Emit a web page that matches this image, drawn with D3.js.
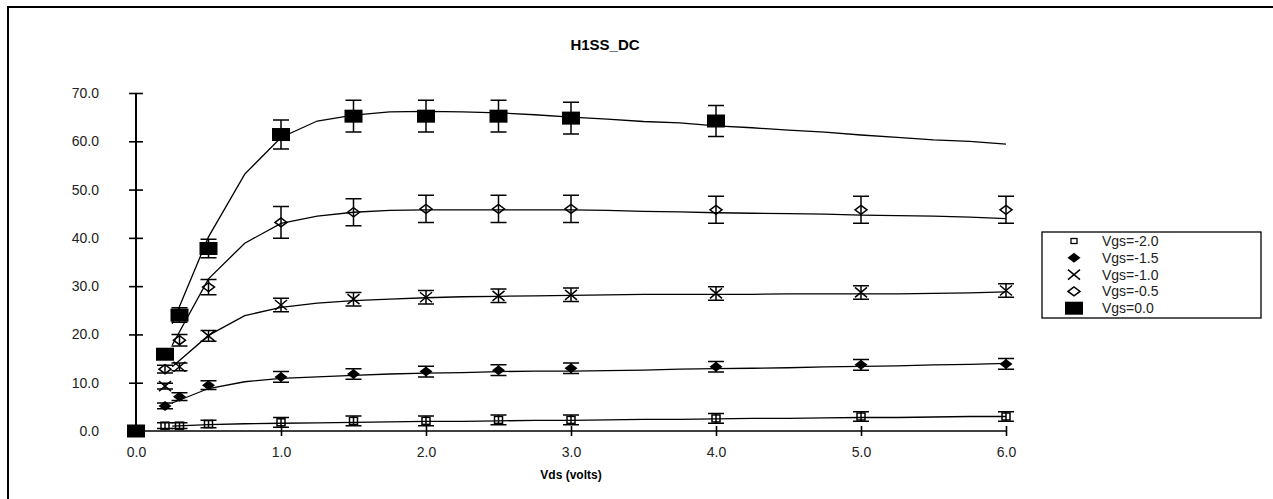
<!DOCTYPE html>
<html>
<head>
<meta charset="utf-8">
<script src="https://cdn.jsdelivr.net/npm/d3@7"></script>
<style>
  body { margin: 0; background: #fff; }
  svg { display: block; font-family: "Liberation Sans", Arial, sans-serif; }
</style>
</head>
<body>
<svg id="chart" width="1273" height="499"></svg>
<script>
// measured points
var markerX = [0, 0.2, 0.3, 0.5, 1.0, 1.5, 2.0, 2.5, 3.0, 4.0, 5.0, 6.0];
var seriesNames = ["Vgs=-2.0", "Vgs=-1.5", "Vgs=-1.0", "Vgs=-0.5", "Vgs=0.0"];
var vgsM20 = [null, 1.1, 1.1, 1.45, 1.8, 2.1, 2.1, 2.3, 2.3, 2.6, 3.0, 3.0];
var vgsM15 = [null, 5.2, 7.1, 9.5, 11.2, 11.8, 12.3, 12.6, 13.0, 13.3, 13.7, 13.9];
var vgsM10 = [null, 9.3, 13.3, 19.7, 26.1, 27.3, 27.7, 28.0, 28.2, 28.5, 28.7, 29.1];
var vgsM05 = [null, 12.8, 18.8, 29.8, 43.2, 45.3, 46.0, 46.0, 46.0, 45.8, 45.8, 45.8];
var vgs00 = [0, 15.9, 24.0, 37.8, 61.4, 65.2, 65.2, 65.2, 64.8, 64.2, null, null];
// error bar half heights
var errM20 = [0, 0.6, 0.6, 0.8, 1.0, 1.0, 1.0, 1.0, 1.0, 1.0, 1.0, 1.0];
var errM15 = [0, 0.6, 0.8, 0.9, 1.1, 1.1, 1.1, 1.1, 1.1, 1.1, 1.1, 1.1];
var errM10 = [0, 0.6, 0.8, 1.1, 1.4, 1.4, 1.4, 1.4, 1.4, 1.4, 1.4, 1.4];
var errM05 = [0, 0.8, 1.2, 1.6, 3.3, 2.8, 2.8, 2.8, 2.8, 2.8, 2.8, 2.8];
var err00 = [0, 1.0, 1.5, 1.9, 3.0, 3.3, 3.3, 3.3, 3.3, 3.2, 0, 0];

// fitted curves
var lineX = [0.25, 0.5, 0.75, 1.0, 1.25, 1.5, 1.75, 2.0, 2.25, 2.5, 2.75, 3.0,
  3.25, 3.5, 3.75, 4.0, 4.25, 4.5, 4.75, 5.0, 5.25, 5.5, 5.75, 6.0];
var fitM20 = [1.0, 1.3, 1.5, 1.6, 1.7, 1.8, 1.9, 2.0, 2.0, 2.1, 2.2, 2.2,
  2.3, 2.4, 2.4, 2.5, 2.6, 2.6, 2.7, 2.8, 2.8, 2.9, 3.0, 3.0];
var fitM15 = [5.8, 8.8, 10.2, 10.9, 11.2, 11.5, 11.8, 12.0, 12.1, 12.3, 12.4, 12.4,
  12.5, 12.6, 12.8, 12.9, 13.0, 13.1, 13.3, 13.4, 13.5, 13.7, 13.8, 14.0];
var fitM10 = [13.3, 19.8, 23.9, 25.6, 26.5, 27.0, 27.3, 27.6, 27.8, 27.9, 28.0, 28.1,
  28.2, 28.3, 28.3, 28.3, 28.3, 28.4, 28.4, 28.4, 28.4, 28.5, 28.6, 28.8];
var fitM05 = [17.8, 31.5, 38.9, 43.0, 44.5, 45.3, 45.7, 45.8, 45.8, 45.8, 45.8, 45.8,
  45.7, 45.5, 45.4, 45.2, 45.1, 45.0, 44.9, 44.7, 44.6, 44.5, 44.3, 44.0];
var fit00 = [22.2, 40.2, 53.2, 60.8, 64.2, 65.4, 66.1, 66.2, 66.1, 65.9, 65.5, 65.0,
  64.6, 64.1, 63.8, 63.2, 62.8, 62.3, 61.9, 61.3, 60.8, 60.3, 60.0, 59.4];

var xTicks = [0, 1, 2, 3, 4, 5, 6];
var yTicks = [0, 10, 20, 30, 40, 50, 60, 70];

var svg = d3.select("#chart");

var x = d3.scaleLinear().domain([0, 6]).range([136, 1006]);
var y = d3.scaleLinear().domain([0, 70]).range([431, 93]);

// outer frame
svg.append("rect")
	.attr("x", 8).attr("y", 7)
	.attr("width", 1300).attr("height", 520)
	.attr("fill", "none").attr("stroke", "#000").attr("stroke-width", 2);

svg.append("text")
	.attr("x", 605).attr("y", 50)
	.attr("text-anchor", "middle")
	.attr("font-size", 15).attr("font-weight", "bold")
	.text("H1SS_DC");

// axes
var xAxis = svg.append("g")
	.attr("transform", "translate(0," + y(0) + ")")
	.call(d3.axisBottom(x).tickValues(xTicks).tickSize(5).tickPadding(11)
		.tickFormat(d3.format(".1f")));
xAxis.select(".domain").attr("stroke-width", 1.6).attr("d", "M" + x(0) + ",0H" + x(6));
xAxis.selectAll(".tick line").attr("y1", -5).attr("stroke-width", 1.6);
xAxis.selectAll(".tick text").attr("font-size", 14).attr("font-family", null).attr("fill", "#222");

var yAxis = svg.append("g")
	.attr("transform", "translate(" + x(0) + ",0)")
	.call(d3.axisLeft(y).tickValues(yTicks).tickSize(7).tickPadding(30)
		.tickFormat(d3.format(".1f")));
yAxis.select(".domain").attr("stroke-width", 2).attr("d", "M0," + y(0) + "V" + y(70));
yAxis.selectAll(".tick line").attr("x1", 7).attr("stroke-width", 1.6);
yAxis.selectAll(".tick text").attr("font-size", 14).attr("font-family", null).attr("fill", "#222");

svg.append("text")
	.attr("x", 571).attr("y", 479)
	.attr("text-anchor", "middle")
	.attr("font-size", 12).attr("font-weight", "bold")
	.text("Vds (volts)");

// fitted lines
var fits = [fitM20, fitM15, fitM10, fitM05, fit00];
var line = d3.line()
	.x(function(d) { return x(d[0]); })
	.y(function(d) { return y(d[1]); });

fits.forEach(function(f) {
	svg.append("path")
		.datum(lineX.map(function(v, i) { return [v, f[i]]; }))
		.attr("d", line)
		.attr("fill", "none")
		.attr("stroke", "#000")
		.attr("stroke-width", 1.3);
});

// markers
function drawSymbol(g, kind, cx, cy) {
	if (kind == 0) {
		g.append("rect").attr("x", cx - 4).attr("y", cy - 3.5).attr("width", 8).attr("height", 7)
			.attr("fill", "none").attr("stroke", "#000").attr("stroke-width", 1.5);
	} else if (kind == 1) {
		g.append("path").attr("d", "M" + (cx - 6.5) + "," + cy + "L" + cx + "," + (cy - 5) +
			"L" + (cx + 6.5) + "," + cy + "L" + cx + "," + (cy + 5) + "Z").attr("fill", "#000");
	} else if (kind == 2) {
		g.append("path").attr("d", "M" + (cx - 6) + "," + (cy - 5) + "L" + (cx + 6) + "," + (cy + 5) +
			"M" + (cx - 6) + "," + (cy + 5) + "L" + (cx + 6) + "," + (cy - 5))
			.attr("stroke", "#000").attr("stroke-width", 1.5).attr("fill", "none");
	} else if (kind == 3) {
		g.append("path").attr("d", "M" + (cx - 6) + "," + cy + "L" + cx + "," + (cy - 4.5) +
			"L" + (cx + 6) + "," + cy + "L" + cx + "," + (cy + 4.5) + "Z")
			.attr("fill", "none").attr("stroke", "#000").attr("stroke-width", 1.5);
	} else {
		g.append("rect").attr("x", cx - 9).attr("y", cy - 6.5).attr("width", 18).attr("height", 13)
			.attr("fill", "#000");
	}
}

var marks = [vgsM20, vgsM15, vgsM10, vgsM05, vgs00];
var errs = [errM20, errM15, errM10, errM05, err00];

marks.forEach(function(m, k) {
	var g = svg.append("g").attr("class", "series-" + k);
	m.forEach(function(v, i) {
		if (v == null) return;
		var cx = x(markerX[i]);
		var e = errs[k][i];
		if (e > 0) {
			var y1 = y(v + e), y2 = y(v - e);
			g.append("path")
				.attr("d", "M" + cx + "," + y1 + "V" + y2 +
					"M" + (cx - 8) + "," + y1 + "H" + (cx + 8) +
					"M" + (cx - 8) + "," + y2 + "H" + (cx + 8))
				.attr("stroke", "#000").attr("stroke-width", 1.5).attr("fill", "none");
		}
		drawSymbol(g, k, cx, y(v));
	});
});

// legend
var legend = svg.append("g");
legend.append("rect")
	.attr("x", 1042).attr("y", 232).attr("width", 219).attr("height", 86)
	.attr("fill", "#fff").attr("stroke", "#000").attr("stroke-width", 1.3);

seriesNames.forEach(function(name, k) {
	var ly = 241 + k * 16.8;
	if (k == 0) {
		legend.append("rect").attr("x", 1071).attr("y", ly - 2.5).attr("width", 6).attr("height", 5)
			.attr("fill", "none").attr("stroke", "#000").attr("stroke-width", 1.3);
	} else {
		drawSymbol(legend, k, 1074, ly);
	}
	legend.append("text")
		.attr("x", 1102).attr("y", ly + 5)
		.attr("font-size", 14).attr("fill", "#222")
		.text(name);
});
</script>
</body>
</html>
